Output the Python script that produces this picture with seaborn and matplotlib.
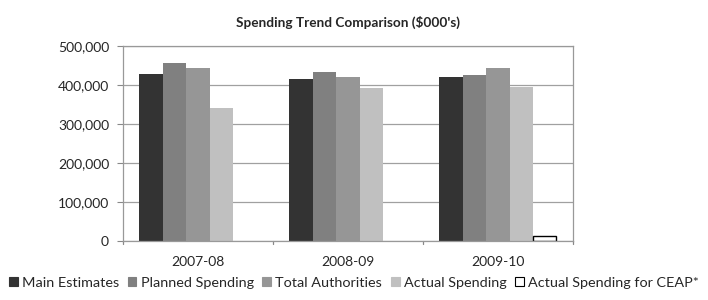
import pandas as pd
import numpy as np
import matplotlib.pyplot as plt
import matplotlib.patches as mpatches
import seaborn as sns

years = ['2007-08', '2008-09', '2009-10']
series = ['Main Estimates', 'Planned Spending', 'Total Authorities',
          'Actual Spending', 'Actual Spending for CEAP*']
main_estimates = [428000, 415000, 421500]
planned_spending = [457500, 433500, 425800]
total_authorities = [443000, 421500, 443000]
actual_spending = [341000, 392000, 395000]
actual_ceap = [np.nan, np.nan, 12000]

colors = ['#333333', '#808080', '#969696', '#c0c0c0', '#ffffff']

rows = []
for name, vals in zip(series, [main_estimates, planned_spending,
                               total_authorities, actual_spending, actual_ceap]):
    for y, v in zip(years, vals):
        rows.append({'year': y, 'series': name, 'value': v})
df = pd.DataFrame(rows)

sns.set_style('white')
plt.rcParams['font.family'] = ['Lato', 'DejaVu Sans']

fig = plt.figure(figsize=(7.08, 3.0), dpi=100)
ax = fig.add_axes([0.1737, 0.1967, 0.6356, 0.65])

sns.barplot(data=df, x='year', y='value', hue='series', order=years,
            hue_order=series, palette=dict(zip(series, colors)),
            width=0.78, gap=0, ax=ax, legend=False, linewidth=0)

# outline for the white CEAP bar
for p in ax.patches:
    if p.get_facecolor()[:3] == (1.0, 1.0, 1.0):
        p.set_edgecolor('black')
        p.set_linewidth(1)

ax.set_ylim(0, 500000)
ax.set_xlim(-0.5, 2.5)
ax.set_yticks(range(0, 500001, 100000))
ax.set_yticklabels([f'{v:,}' for v in range(0, 500001, 100000)], fontsize=10)
ax.yaxis.grid(True, color='#a0a0a0', linewidth=0.9)
ax.set_axisbelow(True)
ax.set_xlabel('')
ax.set_ylabel('')

ax.set_xticks([0, 1, 2])
ax.set_xticklabels(years, fontsize=10)
ax.tick_params(axis='x', length=0, pad=11)
ax.tick_params(axis='y', length=4, color='#888888', pad=6, left=True)
for x in [-0.5, 0.5, 1.5, 2.5]:
    ax.plot([x, x], [0, -8000], color='#888888', lw=0.9, clip_on=False)

for s in ax.spines.values():
    s.set_color('#999999')
    s.set_linewidth(0.9)

ax.set_title("Spending Trend Comparison (\\$000's)", fontsize=9.8,
             fontweight='bold', pad=14)

handles = [mpatches.Patch(facecolor=c, edgecolor='black' if c == '#ffffff' else c,
                          linewidth=0.8, label=s) for s, c in zip(series, colors)]
fig.legend(handles=handles, loc='center', bbox_to_anchor=(0.5, 0.057), ncol=5,
           frameon=False, fontsize=10.4, handlelength=0.6, handleheight=0.6,
           handletextpad=0.3, columnspacing=0.6)

fig.savefig('out.png', dpi=100)
